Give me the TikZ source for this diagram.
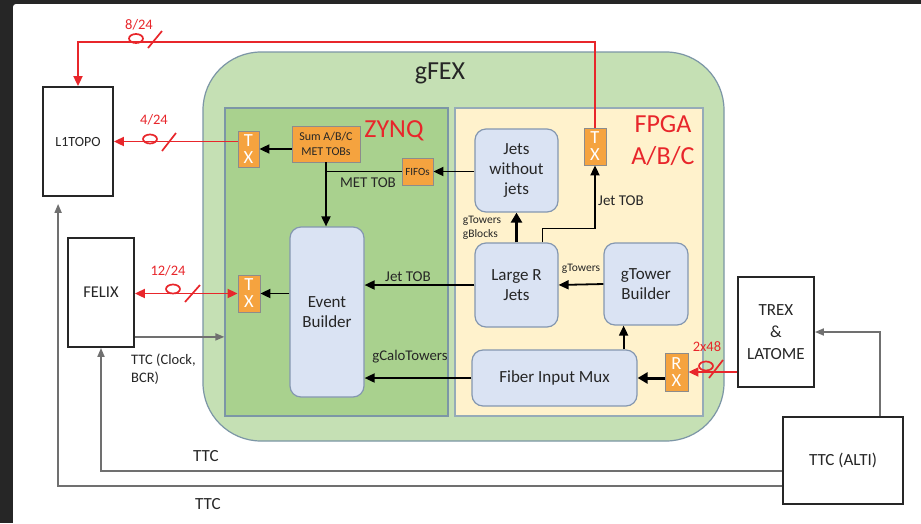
\documentclass[tikz,border=0pt]{standalone}
\usepackage{fontspec}
\setmainfont{Carlito}
\usetikzlibrary{arrows.meta,calc}
\definecolor{frame}{HTML}{262626}
\definecolor{gfexfill}{HTML}{C5E0B4}
\definecolor{gfexbd}{HTML}{7C96A6}
\definecolor{zynqfill}{HTML}{A9D18E}
\definecolor{fpgafill}{HTML}{FFF2CC}
\definecolor{bluefill}{HTML}{DAE3F3}
\definecolor{bluebd}{HTML}{8497B0}
\definecolor{orgfill}{HTML}{F5A33F}
\definecolor{orgbd}{HTML}{8C8C8C}
\definecolor{redl}{HTML}{E8262B}
\definecolor{grayl}{HTML}{707070}
\definecolor{txt}{HTML}{262626}
\newcommand\myfs[2]{\fontsize{#1}{#2}\selectfont}
\begin{document}
\begin{tikzpicture}[x=1pt,y=-1pt,
  lbl/.style={inner sep=0pt, text=txt},
  redlbl/.style={inner sep=0pt, text=redl},
  extbox/.style={draw=black!85, line width=1.8pt, fill=white, inner sep=0pt, text=txt, align=center},
  blk/.style={draw=bluebd, fill=bluefill, line width=1.2pt, rounded corners=11pt, inner sep=0pt, text=txt, align=center, font={\myfs{17}{20}}},
  org/.style={draw=orgbd, fill=orgfill, line width=0.8pt, inner sep=0pt, align=center},
  txbox/.style={org, text=white, font={\myfs{18.5}{17}}},
  arr/.style={draw=black, line width=1.8pt, -{Triangle[length=10pt,width=9pt]}},
  tharr/.style={draw=black, line width=3pt, -{Triangle[length=10pt,width=11pt]}},
  redarr/.style={draw=redl, line width=1.8pt, -{Triangle[length=10pt,width=9pt]}},
  grayarr/.style={draw=grayl, line width=1.7pt, -{Triangle[length=9pt,width=7pt]}},
  redmark/.style={draw=redl, line width=1.7pt}
]
\useasboundingbox (0,0) rectangle (921,523);
\fill[frame] (0,0) rectangle (921,523);
\fill[white, rounded corners=3pt] (13,4) rectangle (925,527);

% containers
\node[draw=gfexbd, fill=gfexfill, line width=1.2pt, rounded corners=58pt, minimum width=521pt, minimum height=389pt, inner sep=0pt] (gfex) at (463.5,246.5) {};
\node[lbl, font={\myfs{26}{30}}] (gfexlbl) at (440,73) {gFEX};
\node[draw=gfexbd, fill=zynqfill, line width=1.2pt, minimum width=223pt, minimum height=308pt, inner sep=0pt] (zynq) at (336.5,262) {};
\node[draw=gfexbd!80, fill=fpgafill, line width=1.2pt, minimum width=248pt, minimum height=308pt, inner sep=0pt] (fpga) at (579,262) {};
\node[redlbl, font={\myfs{26}{30}}] (zynqlbl) at (394,131) {ZYNQ};
\node[redlbl, font={\myfs{26}{32}}, align=center] (fpgalbl) at (663,141) {FPGA\\A/B/C};

% external boxes
\node[extbox, minimum width=70pt, minimum height=109pt, font={\myfs{14}{16}}] (l1topo) at (78,141.5) {L1TOPO};
\node[extbox, minimum width=66pt, minimum height=109pt, font={\myfs{16.5}{19}}] (felix) at (101,292.5) {FELIX};
\node[extbox, minimum width=76pt, minimum height=110pt, font={\myfs{17}{22}}] (trex) at (776,332) {TREX\\\&\\LATOME};
\node[extbox, minimum width=120pt, minimum height=87pt, font={\myfs{17}{20}}] (alti) at (843,460.5) {TTC (ALTI)};

% orange boxes
\node[txbox, minimum width=21pt, minimum height=36pt] (txz1) at (248.5,149) {T\\X};
\node[org, minimum width=68pt, minimum height=36pt, font={\myfs{12}{15}}, text=txt] (sum) at (326,144) {Sum A/B/C\\MET TOBs};
\node[org, minimum width=31pt, minimum height=27pt, font={\myfs{11}{13}}, text=txt] (fifo) at (417.5,171.5) {FIFOs};
\node[txbox, minimum width=22pt, minimum height=37pt] (txz2) at (249,293.5) {T\\X};
\node[txbox, minimum width=22pt, minimum height=37pt] (txf) at (595,146.5) {T\\X};
\node[txbox, minimum width=23pt, minimum height=38pt] (rx) at (676.5,372) {R\\X};

% blue blocks
\node[blk, minimum width=74pt, minimum height=170pt] (eb) at (327,312) {Event\\Builder};
\node[blk, minimum width=83pt, minimum height=83pt] (jwj) at (516.5,170.5) {Jets\\without\\jets};
\node[blk, minimum width=83pt, minimum height=84pt] (lrj) at (516.5,285) {Large R\\Jets};
\node[blk, minimum width=84pt, minimum height=82pt] (gtb) at (646,284) {gTower\\Builder};
\node[blk, minimum width=165pt, minimum height=56pt] (fim) at (554.5,378) {Fiber Input Mux};

% red links
\draw[redarr] (txf.north) -- (txf.north |- 0,42) -| (l1topo.north);
\draw[redmark] (136,38.5) ellipse [x radius=7pt, y radius=4.5pt];
\draw[redmark] (148,48) -- (162,31);
\node[redlbl, font={\myfs{14.5}{17}}] (l824) at (139,25) {8/24};

\draw[redarr] (txz1.west |- l1topo.east) -- (l1topo.east);
\draw[redmark] (150,139) ellipse [x radius=7pt, y radius=4.5pt];
\draw[redmark] (162,151) -- (176,133);
\node[redlbl, font={\myfs{14.5}{17}}] (l424) at (154,120) {4/24};

\draw[redarr, {Triangle[length=10pt,width=9pt]}-{Triangle[length=10pt,width=9pt]}] (felix.east |- txz2.west) -- (txz2.west);
\draw[redmark] (173,289) ellipse [x radius=7pt, y radius=4.5pt];
\draw[redmark] (185,302) -- (200,285);
\node[redlbl, font={\myfs{14.5}{17}}] (l1224) at (168,271) {12/24};

\draw[redarr] (trex.west |- rx.east) -- (rx.east);
\draw[redmark] (706,366) ellipse [x radius=7pt, y radius=4.5pt];
\draw[redmark] (709,378) -- (723,360);
\node[redlbl, font={\myfs{14.5}{17}}] (l248) at (707,347) {2x48};

% black links
\draw[arr] (sum.west |- txz1.east) -- (txz1.east);
\draw[arr] (sum.south) -- (sum.south |- eb.north);
\draw[draw=black, line width=1.8pt] (sum.south |- fifo.west) -- (fifo.west);
\node[lbl, font={\myfs{15}{18}}] (mettob) at (368,183) {MET TOB};
\draw[arr] (jwj.west |- fifo.east) -- (fifo.east);
\draw[arr] (eb.west |- txz2.east) -- (txz2.east);
\draw[arr] (lrj.west) -- (eb.east |- lrj.west);
\node[lbl, font={\myfs{15}{18}}] (jettob1) at (408,277) {Jet TOB};
\draw[arr] (fim.west) -- (eb.east |- fim.west);
\node[lbl, font={\myfs{14.8}{18}}] (gcalo) at (410,357) {gCaloTowers};
\draw[tharr] (lrj.north) -- (jwj.south);
\node[lbl, font={\myfs{11.5}{14}}, align=left] (gtgb) at (482,228) {gTowers\\gBlocks};
\draw[arr] ([xshift=26pt]lrj.north) -- ++(0,-14) -| (txf.south);
\node[lbl, font={\myfs{15}{18}}] (jettob2) at (621,201) {Jet TOB};
\draw[arr] (gtb.west) -- (lrj.east);
\node[lbl, font={\myfs{11.5}{14}}] (gtow) at (581,269) {gTowers};
\coordinate (fimup) at ([xshift=-14pt]fim.north east);
\draw[arr] (fimup) -- (fimup |- gtb.south);
\draw[tharr] (rx.west |- fim.east) -- (fim.east);

% gray TTC links
\coordinate (fttc) at ([yshift=11pt]felix.south east);
\draw[grayarr] (fttc) -- (zynq.west |- fttc);
\node[lbl, font={\myfs{14.5}{17.5}}, align=left, anchor=north west] (ttcclk) at (131,354) {TTC (Clock,\\BCR)};
\draw[grayarr] ([xshift=-24pt]alti.north east) |- (trex.east);
\draw[grayarr] ([yshift=-10.5pt]alti.west) -| (felix.south);
\node[lbl, font={\myfs{17}{20}}] (ttc1) at (206,456) {TTC};
\draw[grayarr, shorten >=7pt] ([yshift=-25.5pt]alti.west) -| ([xshift=16pt]l1topo.south west);
\node[lbl, font={\myfs{17}{20}}] (ttc2) at (208,504) {TTC};
\end{tikzpicture}
\end{document}
